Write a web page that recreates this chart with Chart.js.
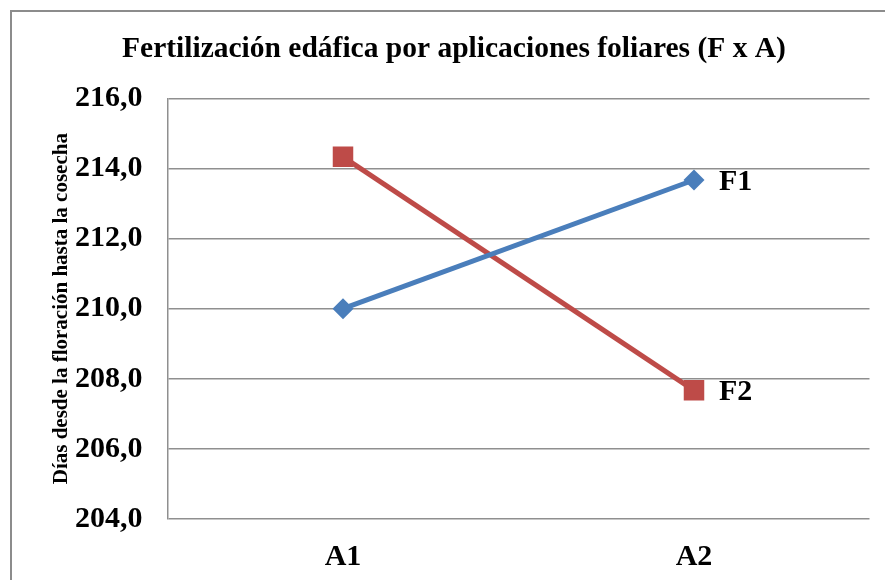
<!DOCTYPE html>
<html><head><meta charset="utf-8">
<script src="https://cdn.jsdelivr.net/npm/chart.js@4.4.1/dist/chart.umd.min.js"></script>
<style>html,body{margin:0;padding:0;background:#fff;}#wrap{position:relative;width:885px;height:580px;}</style>
</head><body><div id="wrap"><canvas id="c" width="885" height="580"></canvas></div>
<script>
const categories = ["A1", "A2"];
const seriesNames = ["F1", "F2"];
const f1Values = [210.0, 213.67];
const f2Values = [214.33, 207.67];
const yTicks = [204, 206, 208, 210, 212, 214, 216];
const titleText = "Fertilización edáfica por aplicaciones foliares (F x A)";
const yTitle = "Días desde la floración hasta la cosecha";

const serif = "'Liberation Serif', 'Times New Roman', serif";

const decor = {
  id: 'decor',
  beforeDraw(chart) {
    const ctx = chart.ctx;
    ctx.save();
    ctx.fillStyle = '#fff';
    ctx.fillRect(0, 0, chart.width, chart.height);
    ctx.strokeStyle = '#8c8c8c';
    ctx.lineWidth = 2;
    ctx.strokeRect(11, 11, 1000, 1000);
    ctx.restore();
  },
  afterDraw(chart) {
    const ctx = chart.ctx;
    ctx.save();
    ctx.fillStyle = '#000';
    ctx.font = "bold 29.5px " + serif;
    ctx.textAlign = 'center';
    ctx.textBaseline = 'alphabetic';
    ctx.fillText(titleText, 454, 57);
    ctx.font = "bold 30px " + serif;
    ctx.textAlign = 'left';
    ctx.textBaseline = 'middle';
    chart.data.datasets.forEach((ds, i) => {
      const meta = chart.getDatasetMeta(i);
      const pt = meta.data[meta.data.length - 1];
      ctx.fillText(seriesNames[i], pt.x + 25, pt.y + 2);
    });
    ctx.restore();
  }
};

new Chart(document.getElementById('c'), {
  type: 'line',
  data: {
    labels: categories,
    datasets: [
      { label: seriesNames[0], data: f1Values, borderColor: '#4a7ebb', backgroundColor: '#4a7ebb',
        borderWidth: 5, pointStyle: 'rectRot', pointRadius: 10.5, pointHoverRadius: 10.5, pointBorderWidth: 0, tension: 0 },
      { label: seriesNames[1], data: f2Values, borderColor: '#be4b48', backgroundColor: '#be4b48',
        borderWidth: 5, pointStyle: 'rect', pointRadius: 14.5, pointHoverRadius: 14.5, pointBorderWidth: 0, tension: 0 }
    ]
  },
  options: {
    responsive: false,
    animation: false,
    events: [],
    layout: { padding: { left: 0, right: 15.5, top: 98.3, bottom: 0 } },
    plugins: { legend: { display: false }, title: { display: false }, tooltip: { enabled: false } },
    scales: {
      x: {
        offset: true,
        grid: { display: false, drawTicks: false },
        border: { display: false },
        ticks: { color: '#000', font: { family: serif, size: 30, weight: 'bold' }, padding: 20 },
        afterFit(s) { s.height = 61; }
      },
      y: {
        min: 204, max: 216,
        afterBuildTicks(s) { s.ticks = yTicks.map(v => ({ value: v })); },
        grid: { color: '#8f8f8f', lineWidth: 1.5, drawTicks: false },
        border: { display: true, color: '#8f8f8f', width: 1.5 },
        ticks: { color: '#000', font: { family: serif, size: 30, weight: 'bold' }, padding: 25,
          callback: v => v.toFixed(1).replace('.', ',') },
        title: { display: true, text: yTitle, color: '#000', font: { family: serif, size: 21, weight: 'bold' }, padding: { top: 48.5, bottom: 0 } },
        afterFit(s) { s.width = 167.5; }
      }
    }
  },
  plugins: [decor]
});
</script></body></html>
